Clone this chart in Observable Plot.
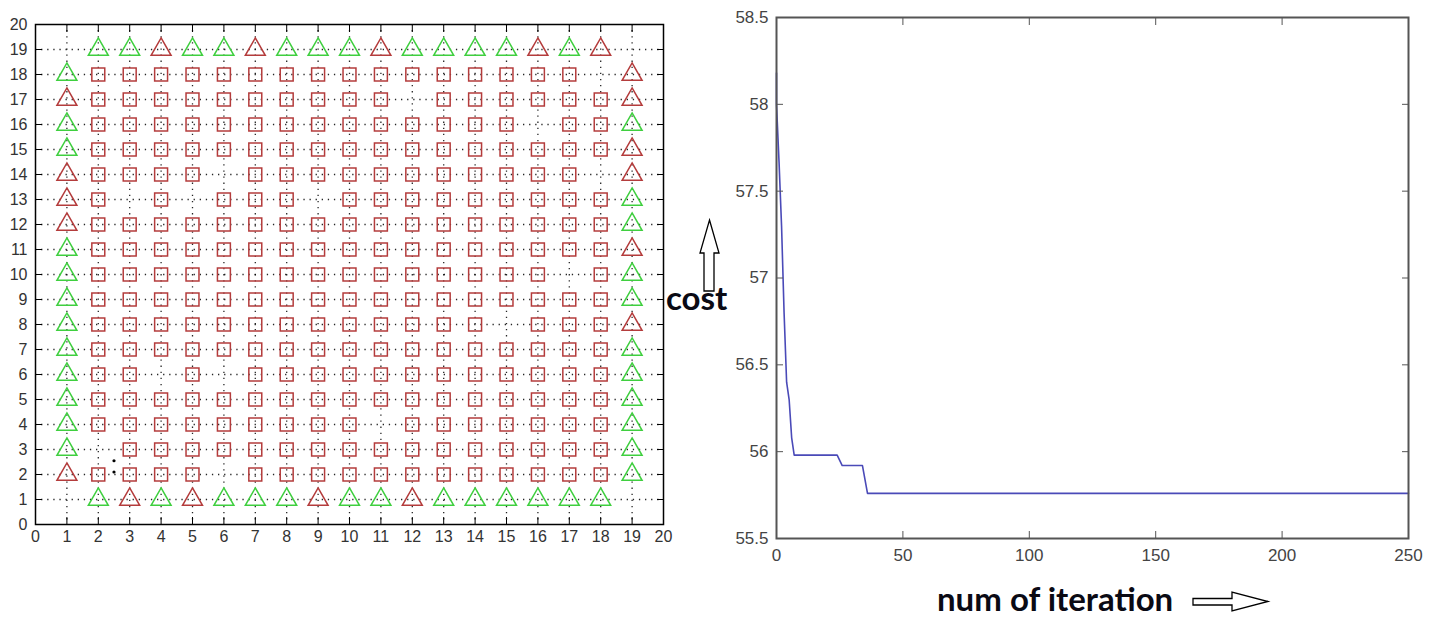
<!DOCTYPE html>
<html>
<head>
<meta charset="utf-8">
<script src="https://cdn.jsdelivr.net/npm/d3@7"></script>
<script src="https://cdn.jsdelivr.net/npm/@observablehq/plot@0.6"></script>
<style>
  html, body { margin: 0; padding: 0; background: #fff; }
  #page { position: relative; width: 1440px; height: 618px; overflow: hidden; background: #fff; }
  #left { position: absolute; left: 0; top: 0; width: 674px; height: 560px; }
  #right { position: absolute; left: 700px; top: 0; width: 740px; height: 580px; }
  .lbl { position: absolute; font-family: Lato, "Open Sans", sans-serif; font-weight: 700; font-size: 33px; color: #0a0a14; white-space: nowrap; line-height: 1; }
  svg.deco { position: absolute; left: 0; top: 0; }
</style>
</head>
<body>
<div id="page">
  <div id="left"></div>
  <div id="right"></div>
  <div class="lbl" id="costLbl" style="left:666px; top:281px;">cost</div>
  <div class="lbl" id="iterLbl" style="left:937px; top:582px;">num of iteration</div>
  <svg class="deco" width="1440" height="618">
    <polygon points="709.5,220 719,253 714,253 714,291 704,291 704,253 700,253" fill="#fff" stroke="#000" stroke-width="1.3"/>
    <polygon points="1193,598.5 1232,598.5 1232,592 1268,601.5 1232,611 1232,605 1193,605" fill="#fff" stroke="#000" stroke-width="1.3"/>
  </svg>
</div>
<script>
// ---------- Left chart data ----------
const gridTicks = [0,1,2,3,4,5,6,7,8,9,10,11,12,13,14,15,16,17,18,19,20];
const innerCols = [2,3,4,5,6,7,8,9,10,11,12,13,14,15,16,17,18];
const innerRows = [18,17,16,15,14,13,12,11,10,9,8,7,6,5,4,3,2];
// square present (1) / absent (0) for x = 2..18, one string per row y = 18..2
const squareMask = [
  "11111111111111110", // 18
  "11111111110111111", // 17
  "11111111111111011", // 16
  "11111111111111111", // 15
  "11110111111111110", // 14
  "10101110111111111", // 13
  "11111111111111111", // 12
  "11111111111111111", // 11
  "11111111111111101", // 10
  "11111111111111111", // 9
  "11111111111110111", // 8
  "11111111111111111", // 7
  "11010111111111111", // 6
  "11111111111111111", // 5
  "11111111101111111", // 4
  "01111111111111111", // 3
  "11110111111111111"  // 2
];
// triangle colour: G = green, R = red
const topRowY = 19, bottomRowY = 1, leftColX = 1, rightColX = 19;
const topTriangles    = "GGRGGRGGGRGGGGRGR"; // y=19, x=2..18
const bottomTriangles = "GRGRGGGRGGRGGGGGG"; // y=1,  x=2..18
const leftTriangles   = "GRGGRRRGGGGGGGGGR"; // x=1,  y=18..2
const rightTriangles  = "RRGRRGGRGGRGGGGGG"; // x=19, y=18..2
const blackDotsX = [2.5, 2.5];
const blackDotsY = [2.55, 2.1];

// ---------- Right chart data ----------
const iterations = [0, 0, 1, 2, 3, 4, 5, 6, 7, 24, 26, 34, 36, 250];
const costs = [58.18, 58.0, 57.67, 57.3, 56.8, 56.4, 56.3, 56.08, 55.98, 55.98, 55.92, 55.92, 55.76, 55.76];
const iterTicks = [0, 50, 100, 150, 200, 250];
const costTicks = [55.5, 56, 56.5, 57, 57.5, 58, 58.5];

// ---------- build tables ----------
const RED = "#b43c3c", GREEN = "#3fcf3f";
const squares = [];
innerRows.forEach((y, r) => innerCols.forEach((x, c) => { if (squareMask[r][c] === "1") squares.push({x, y}); }));
const triangles = [];
innerCols.forEach((x, i) => {
  triangles.push({x, y: topRowY, c: topTriangles[i]});
  triangles.push({x, y: bottomRowY, c: bottomTriangles[i]});
});
innerRows.forEach((y, i) => {
  triangles.push({x: leftColX, y, c: leftTriangles[i]});
  triangles.push({x: rightColX, y, c: rightTriangles[i]});
});
const dots = blackDotsX.map((x, i) => ({x, y: blackDotsY[i]}));
const inner = gridTicks.filter(t => t > 0 && t < 20);

const left = Plot.plot({
  width: 674, height: 560,
  marginLeft: 35, marginTop: 24, marginRight: 11, marginBottom: 36,
  style: {fontFamily: "'Liberation Sans', Arial, sans-serif", fontSize: "16px", color: "#333", background: "#fff"},
  x: {domain: [0, 20], ticks: gridTicks, tickFormat: d => String(d), label: null},
  y: {domain: [0, 20], ticks: gridTicks, tickFormat: d => String(d), label: null},
  marks: [
    Plot.gridX(inner, {stroke: "#000", strokeOpacity: 0.85, strokeWidth: 1.3, strokeDasharray: "1.3,4.8"}),
    Plot.gridY(inner, {stroke: "#000", strokeOpacity: 0.85, strokeWidth: 1.3, strokeDasharray: "1.3,4.8"}),
    Plot.dot(squares, {x: "x", y: "y", symbol: "square", r: 7.3, stroke: RED, strokeWidth: 1.5, fill: "none"}),
    Plot.dot(triangles, {x: "x", y: "y", symbol: "triangle", r: 7.4, stroke: d => d.c === "G" ? GREEN : RED, strokeWidth: 1.5, fill: "none"}),
    Plot.dot(dots, {x: "x", y: "y", r: 1.6, fill: "#000", stroke: null}),
    Plot.axisX(gridTicks, {anchor: "bottom", tickSize: -7, tickPadding: 13, stroke: "#000"}),
    Plot.axisX(gridTicks, {anchor: "top", tickSize: -7, tickFormat: () => "", stroke: "#000"}),
    Plot.axisY(gridTicks, {anchor: "left", tickSize: -7, tickPadding: 15, stroke: "#000"}),
    Plot.axisY(gridTicks, {anchor: "right", tickSize: -7, tickFormat: () => "", stroke: "#000"}),
    Plot.frame({stroke: "#000", strokeWidth: 1.5})
  ]
});
document.getElementById("left").appendChild(left);

const series = iterations.map((x, i) => ({x, y: costs[i]}));
const right = Plot.plot({
  width: 740, height: 580,
  marginLeft: 76, marginTop: 17, marginRight: 32, marginBottom: 42,
  style: {fontFamily: "'Liberation Sans', Arial, sans-serif", fontSize: "17px", color: "#444", background: "#fff"},
  x: {domain: [0, 250], label: null},
  y: {domain: [55.5, 58.5], label: null},
  marks: [
    Plot.line(series, {x: "x", y: "y", stroke: "#4a4ab8", strokeWidth: 1.6}),
    Plot.axisX(iterTicks, {anchor: "bottom", tickSize: -7, tickPadding: 17, tickFormat: d => String(d), stroke: "#555"}),
    Plot.axisX(iterTicks, {anchor: "top", tickSize: -7, tickFormat: () => "", stroke: "#555"}),
    Plot.axisY(costTicks, {anchor: "left", tickSize: -7, tickPadding: 15, tickFormat: d => String(d), stroke: "#555"}),
    Plot.axisY(costTicks, {anchor: "right", tickSize: -7, tickFormat: () => "", stroke: "#555"}),
    Plot.frame({stroke: "#555", strokeWidth: 2})
  ]
});
document.getElementById("right").appendChild(right);
</script>
</body>
</html>
